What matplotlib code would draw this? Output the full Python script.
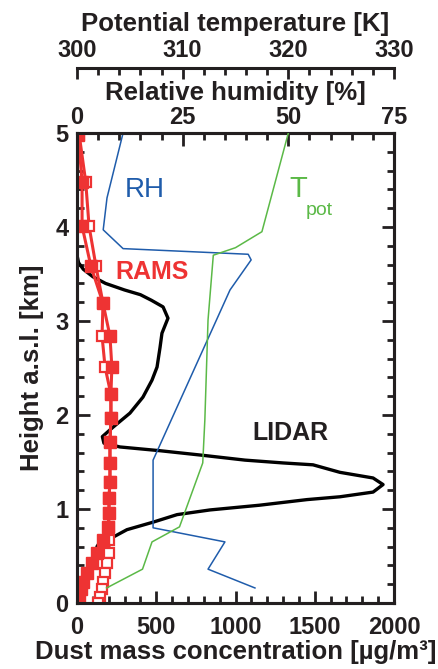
import matplotlib
matplotlib.use("Agg")
import matplotlib.pyplot as plt
from matplotlib.ticker import MultipleLocator

plt.rcParams['font.family'] = ['Liberation Sans', 'DejaVu Sans']
plt.rcParams['font.weight'] = 'bold'
plt.rcParams['axes.labelweight'] = 'bold'

ink = '#231f20'
red = '#ee3333'
blue = '#1f5cab'
green = '#5bb947'

# LIDAR dust profile (height km, dust ug/m3)
lidar_h = [3.70, 3.62, 3.55, 3.47, 3.40, 3.33, 3.28, 3.22, 3.15, 3.03, 2.87, 2.72,
           2.51, 2.37, 2.19, 2.02, 1.87, 1.77, 1.70, 1.66, 1.62, 1.57, 1.52, 1.49,
           1.47, 1.39, 1.33, 1.26, 1.18, 1.13, 1.10, 1.04, 0.99, 0.94, 0.86, 0.78,
           0.70, 0.65, 0.60, 0.49, 0.43, 0.28, 0.14, 0.0]
lidar_d = [0, 10, 40, 101, 180, 300, 400, 470, 543, 574, 536, 524,
           505, 473, 416, 334, 227, 160, 170, 271, 524, 800, 1060, 1300,
           1489, 1659, 1868, 1931, 1868, 1659, 1451, 1150, 839, 631, 480, 315,
           227, 145, 126, 126, 101, 63, 19, 0]

# RAMS model profiles
rams_h = [4.98, 4.48, 4.01, 3.58, 3.19, 2.84, 2.51, 2.22, 1.97, 1.71, 1.49, 1.29,
          1.12, 0.96, 0.81, 0.67, 0.53, 0.43, 0.32, 0.22, 0.15, 0.06, 0.0]
rams_filled = [8, 32, 32, 88, 164, 208, 220, 214, 214, 208, 208, 208,
               202, 202, 196, 164, 126, 95, 63, 38, 25, 13, 6]
rams_open = [14, 55, 76, 120, 164, 158, 177, 214, 214, 208, 208, 208,
             202, 202, 200, 202, 202, 189, 177, 164, 158, 145, 135]

# relative humidity (%)
rh_h = [0.16, 0.36, 0.65, 0.80, 1.52, 3.33, 3.65, 3.71, 3.77, 3.97, 4.31, 5.0]
rh_v = [42.1, 31.0, 35.0, 18.0, 18.0, 36.2, 41.2, 40.5, 10.9, 6.2, 7.1, 10.9]

# potential temperature (K)
tp_h = [0.16, 0.36, 0.65, 0.81, 1.49, 1.95, 3.01, 3.70, 3.78, 3.95, 5.0]
tp_v = [302.8, 306.2, 307.1, 309.7, 311.9, 312.1, 312.4, 312.9, 315.0, 317.5, 320.0]

fig = plt.figure(figsize=(4.38, 6.69), dpi=100)
ax = fig.add_axes([77 / 438, 66 / 669, 317 / 438, 470 / 669])
ax_rh = ax.twiny()
ax_t = ax.twiny()

ax.plot(lidar_d, lidar_h, color='black', lw=2.4, zorder=3)
ax.plot(rams_open, rams_h, color=red, lw=2.2, marker='s', ms=7, mfc='white',
        mec=red, mew=1.6, zorder=4)
ax.plot(rams_filled, rams_h, color=red, lw=2.2, marker='s', ms=8, mfc=red,
        mec=red, zorder=5)
ax_rh.plot(rh_v, rh_h, color=blue, lw=1.1)
ax_t.plot(tp_v, tp_h, color=green, lw=1.1)

ax.set_xlim(0, 2000)
ax.set_ylim(0, 5)
ax_rh.set_xlim(0, 75)
ax_t.set_xlim(300, 330)

for a in (ax, ax_rh, ax_t):
    for s in a.spines.values():
        s.set_linewidth(2.2)
        s.set_color(ink)

ax.xaxis.set_major_locator(MultipleLocator(500))
ax.xaxis.set_minor_locator(MultipleLocator(100))
ax.yaxis.set_major_locator(MultipleLocator(1))
ax.yaxis.set_minor_locator(MultipleLocator(0.2))
ax.tick_params(which='both', direction='in', left=True, right=True, bottom=True,
               top=False, color=ink, width=2)
ax.tick_params(which='major', length=9, labelsize=17, labelcolor=ink, pad=6)
ax.tick_params(axis='x', which='major', pad=9)
ax.tick_params(which='minor', length=5)

ax_rh.xaxis.set_major_locator(MultipleLocator(25))
ax_rh.xaxis.set_minor_locator(MultipleLocator(5))
ax_rh.tick_params(which='both', direction='in', color=ink, width=2)
ax_rh.tick_params(which='major', length=9, labelsize=17, labelcolor=ink, pad=3)
ax_rh.tick_params(which='minor', length=5)

ax_t.spines['top'].set_position(('outward', 46.8))
for side in ('left', 'right', 'bottom'):
    ax_t.spines[side].set_visible(False)
ax_t.xaxis.set_major_locator(MultipleLocator(10))
ax_t.xaxis.set_minor_locator(MultipleLocator(2))
ax_t.tick_params(which='both', direction='in', color=ink, width=2)
ax_t.tick_params(which='major', length=8, labelsize=17, labelcolor=ink, pad=4)
ax_t.tick_params(which='minor', length=5)

ax.set_xlabel('Dust mass concentration [µg/m³]', fontsize=18.5, color=ink, labelpad=1)
ax.set_ylabel('Height a.s.l. [km]', fontsize=18.5, color=ink, labelpad=8)
ax_rh.set_xlabel('Relative humidity [%]', fontsize=18.5, color=ink, labelpad=4)
ax_t.set_xlabel('Potential temperature [K]', fontsize=18.5, color=ink, labelpad=6)

ax.text(303, 4.39, 'RH', color=blue, fontsize=20, fontweight='normal', va='center')
ax.text(240, 3.52, 'RAMS', color=red, fontsize=18, va='center')
ax.text(1104, 1.81, 'LIDAR', color=ink, fontsize=18, va='center')
ax.text(1340, 4.40, 'T', color=green, fontsize=21, fontweight='normal', va='center')
ax.text(1440, 4.18, 'pot', color=green, fontsize=14, fontweight='normal', va='center')

fig.savefig('out.png', dpi=100)
